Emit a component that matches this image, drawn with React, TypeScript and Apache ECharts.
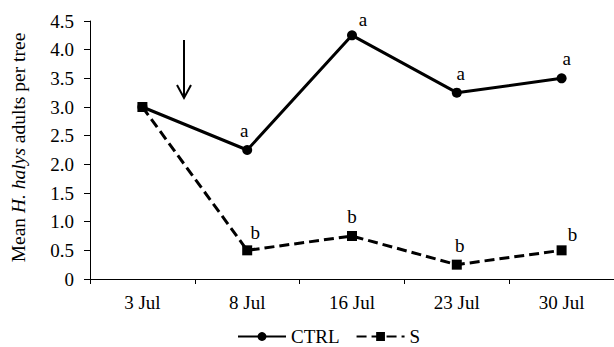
import React, { useEffect, useRef } from "react";
import * as echarts from "echarts";

const categories = ["3 Jul", "8 Jul", "16 Jul", "23 Jul", "30 Jul"];
const ctrlValues = [3.0, 2.25, 4.25, 3.25, 3.5];
const sValues = [3.0, 0.5, 0.75, 0.25, 0.5];
const ctrlLetters = ["", "a", "a", "a", "a"];
const sLetters = ["", "b", "b", "b", "b"];
const yTicks = [0, 0.5, 1, 1.5, 2, 2.5, 3, 3.5, 4, 4.5];

const ctrlLabelOffsets = [[0, 0], [-3, 0], [11, 4], [4, 0], [5, 0]];
const sLabelOffsets = [[0, 0], [8, 2], [0, 0], [3, 0], [11, 4]];

const FONT = "Liberation Serif";
const FS = 19;

export default function App() {
  const ref = useRef<HTMLDivElement>(null);
  useEffect(() => {
    const chart = echarts.init(ref.current!, null, { renderer: "svg" });
    const labelBase = {
      show: true,
      position: "top",
      distance: 5,
      fontFamily: FONT,
      fontSize: FS,
      color: "#000",
    };
    chart.setOption({
      animation: false,
      backgroundColor: "#fff",
      textStyle: { fontFamily: FONT },
      grid: { left: 89, top: 21, bottom: 68, right: -7, containLabel: false },
      legend: {
        left: 232,
        top: 322,
        itemWidth: 48,
        itemHeight: 11,
        itemGap: 16,
        textStyle: { fontFamily: FONT, fontSize: 19, color: "#000" },
        data: ["CTRL", "S"],
      },
      xAxis: {
        type: "category",
        data: categories,
        boundaryGap: true,
        axisLine: { lineStyle: { color: "#000", width: 1 } },
        axisTick: { show: true, inside: false, length: 5, lineStyle: { color: "#000" } },
        axisLabel: { fontFamily: FONT, fontSize: FS, color: "#000", margin: 14 },
      },
      yAxis: {
        type: "value",
        min: yTicks[0],
        max: yTicks[yTicks.length - 1],
        interval: 0.5,
        splitLine: { show: false },
        axisLine: { show: true, lineStyle: { color: "#000", width: 1 } },
        axisTick: { show: true, inside: false, length: 6, lineStyle: { color: "#000" } },
        axisLabel: {
          fontFamily: FONT,
          fontSize: FS,
          color: "#000",
          margin: 16,
          formatter: (v: number) => (v === 0 ? "0" : v.toFixed(1)),
        },
        name: "Mean {i|H. halys} adults per tree",
        nameLocation: "middle",
        nameGap: 62,
        nameRotate: 90,
        nameTextStyle: {
          fontFamily: FONT,
          fontSize: 19.5,
          color: "#000",
          padding: [0, 0, 0, 5],
          rich: {
            i: { fontFamily: FONT, fontSize: 19.5, fontStyle: "italic", color: "#000" },
          },
        },
      },
      series: [
        {
          name: "CTRL",
          type: "line",
          symbol: "circle",
          symbolSize: 10,
          itemStyle: { color: "#000" },
          lineStyle: { color: "#000", width: 3, type: "solid" },
          data: ctrlValues.map((v, i) => ({
            value: v,
            label: { ...labelBase, offset: ctrlLabelOffsets[i], formatter: ctrlLetters[i] || "" },
          })),
          z: 2,
        },
        {
          name: "S",
          type: "line",
          symbol: "rect",
          symbolSize: 10,
          itemStyle: { color: "#000" },
          lineStyle: { color: "#000", width: 3, type: [10, 5] },
          data: sValues.map((v, i) => ({
            value: v,
            label: { ...labelBase, offset: sLabelOffsets[i], formatter: sLetters[i] || "" },
          })),
          z: 3,
        },
      ],
      graphic: [
        {
          type: "group",
          children: [
            {
              type: "line",
              shape: { x1: 184, y1: 40, x2: 184, y2: 98 },
              style: { stroke: "#000", lineWidth: 2 },
            },
            {
              type: "polyline",
              shape: { points: [[177, 85], [184, 98], [191, 85]] },
              style: { stroke: "#000", lineWidth: 2, fill: null },
            },
          ],
        },
      ],
    });
    return () => chart.dispose();
  }, []);
  return <div ref={ref} style={{ width: 614, height: 347, position: "absolute", left: 0, top: 0 }} />;
}
